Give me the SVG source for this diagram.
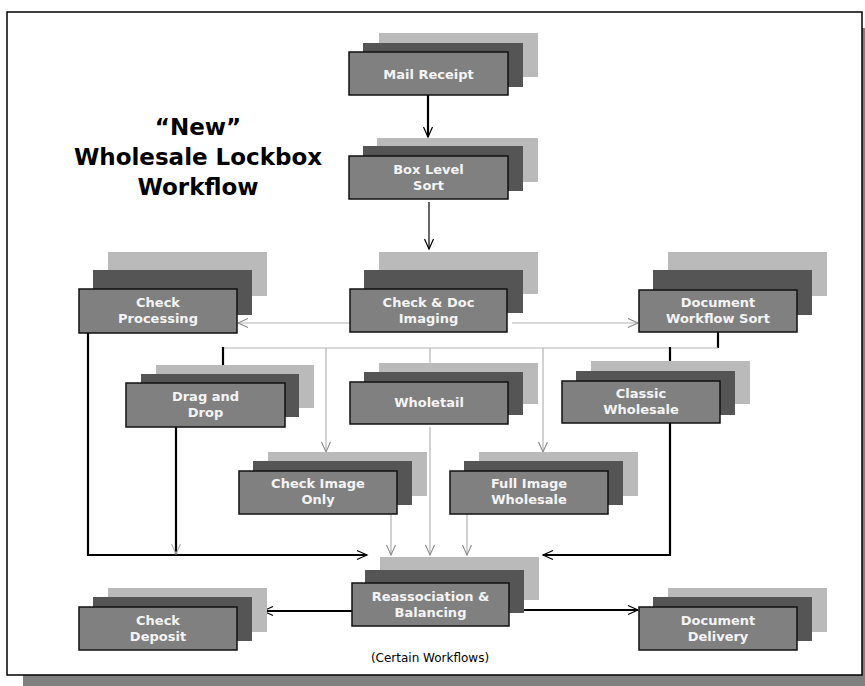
<svg xmlns="http://www.w3.org/2000/svg" width="865" height="686" viewBox="0 0 865 686">
  <style>
    .back { fill: #bababa; }
    .mid { fill: #555555; }
    .front { fill: #808080; stroke: #111111; stroke-width: 1.5; }
    .lbl { font-family: "DejaVu Sans", "Liberation Sans", sans-serif; font-weight: bold; font-size: 13px; fill: #f4f4f4; text-anchor: middle; }
    .title { font-family: "DejaVu Sans", "Liberation Sans", sans-serif; font-weight: bold; font-size: 23px; fill: #000000; text-anchor: middle; }
    .note { font-family: "DejaVu Sans", "Liberation Sans", sans-serif; font-size: 12px; fill: #000000; text-anchor: middle; }
    .thick { fill: none; stroke: #000000; stroke-width: 2.2; }
    .thin { fill: none; stroke: #000000; stroke-width: 1.2; }
    .grey { fill: none; stroke: #b4b4b4; stroke-width: 1.2; }
  </style>
  <defs>
    <marker id="headBlack" markerUnits="userSpaceOnUse" viewBox="-12 -6 14 12" refX="0" refY="0" markerWidth="14" markerHeight="12" orient="auto" overflow="visible">
      <path d="M-10,-4.5 L0,0 L-10,4.5" fill="none" stroke="#000000" stroke-width="1.2"/>
    </marker>
    <marker id="headGrey" markerUnits="userSpaceOnUse" viewBox="-12 -6 14 12" refX="0" refY="0" markerWidth="14" markerHeight="12" orient="auto" overflow="visible">
      <path d="M-10,-4.5 L0,0 L-10,4.5" fill="none" stroke="#8a8a8a" stroke-width="1.1"/>
    </marker>
    <marker id="headFaint" markerUnits="userSpaceOnUse" viewBox="-12 -6 14 12" refX="0" refY="0" markerWidth="14" markerHeight="12" orient="auto" overflow="visible">
      <path d="M-10,-4.5 L0,0 L-10,4.5" fill="none" stroke="#b0b0b0" stroke-width="1.1"/>
    </marker>
  </defs>

  <!-- page with drop shadow -->
  <rect x="23" y="28" width="855" height="663" fill="#808080"/>
  <rect x="7" y="12" width="855" height="663" fill="#ffffff" stroke="#000000" stroke-width="1.5"/>

  <!-- title -->
  <g id="title">
    <text class="title" x="198" y="135">“New”</text>
    <text class="title" x="198" y="165">Wholesale Lockbox</text>
    <text class="title" x="198" y="195">Workflow</text>
  </g>

  <!-- connectors -->
  <g id="connectors">
    <line class="thick" x1="428" y1="95" x2="428" y2="137" marker-end="url(#headBlack)"/>
    <line class="thin" x1="429" y1="202" x2="429" y2="249" marker-end="url(#headBlack)"/>
    <line class="grey" x1="350" y1="323" x2="238" y2="323" marker-end="url(#headGrey)"/>
    <line class="grey" x1="512" y1="323" x2="638" y2="323" marker-end="url(#headGrey)"/>

    <!-- distribution bus below the imaging row -->
    <line class="thick" x1="718" y1="332" x2="718" y2="348"/>
    <line class="grey" x1="223" y1="348" x2="718" y2="348"/>
    <line class="thick" x1="223" y1="347" x2="223" y2="365"/>
    <line class="thick" x1="670" y1="347" x2="670" y2="361"/>
    <line class="grey" x1="326" y1="348" x2="326" y2="452" marker-end="url(#headGrey)"/>
    <line class="grey" x1="430" y1="348" x2="430" y2="363"/>
    <line class="grey" x1="543" y1="348" x2="543" y2="452" marker-end="url(#headGrey)"/>

    <!-- feeds into reassociation -->
    <polyline class="thick" points="88,333 88,555 367,555" marker-end="url(#headBlack)"/>
    <line class="thick" x1="176" y1="427" x2="176" y2="554" marker-end="url(#headFaint)"/>
    <polyline class="thick" points="670,420 670,555 543,555" marker-end="url(#headBlack)"/>
    <line class="grey" x1="391" y1="514" x2="391" y2="555" marker-end="url(#headGrey)"/>
    <line class="grey" x1="430" y1="427" x2="430" y2="555" marker-end="url(#headGrey)"/>
    <line class="grey" x1="467" y1="514" x2="467" y2="555" marker-end="url(#headGrey)"/>

    <!-- outputs -->
    <line class="thick" x1="352" y1="611" x2="263" y2="611" marker-end="url(#headBlack)"/>
    <line class="thick" x1="524" y1="610" x2="638" y2="610" marker-end="url(#headBlack)"/>
  </g>

  <!-- nodes -->
  <g id="mail-receipt">
    <rect class="back" x="379" y="33" width="159" height="44"/>
    <rect class="mid" x="363" y="43" width="160" height="44"/>
    <rect class="front" x="349" y="52" width="159" height="43"/>
    <text class="lbl" x="428.5" y="79">Mail Receipt</text>
  </g>

  <g id="box-level-sort">
    <rect class="back" x="377" y="138" width="161" height="44"/>
    <rect class="mid" x="363" y="146" width="160" height="45"/>
    <rect class="front" x="349" y="156" width="159" height="43"/>
    <text class="lbl" x="428.5" y="174">Box Level</text>
    <text class="lbl" x="428.5" y="190">Sort</text>
  </g>

  <g id="check-doc-imaging">
    <rect class="back" x="379" y="252" width="159" height="42"/>
    <rect class="mid" x="364" y="270" width="159" height="43"/>
    <rect class="front" x="350" y="289" width="157" height="43"/>
    <text class="lbl" x="428.5" y="307">Check &amp; Doc</text>
    <text class="lbl" x="428.5" y="323">Imaging</text>
  </g>

  <g id="check-processing">
    <rect class="back" x="108" y="252" width="159" height="44"/>
    <rect class="mid" x="93" y="270" width="159" height="45"/>
    <rect class="front" x="79" y="289" width="158" height="44"/>
    <text class="lbl" x="158" y="307">Check</text>
    <text class="lbl" x="158" y="323">Processing</text>
  </g>

  <g id="document-workflow-sort">
    <rect class="back" x="668" y="252" width="159" height="44"/>
    <rect class="mid" x="653" y="270" width="159" height="45"/>
    <rect class="front" x="639" y="290" width="158" height="42"/>
    <text class="lbl" x="718" y="307">Document</text>
    <text class="lbl" x="718" y="323">Workflow Sort</text>
  </g>

  <g id="drag-and-drop">
    <rect class="back" x="156" y="365" width="158" height="43"/>
    <rect class="mid" x="141" y="374" width="158" height="43"/>
    <rect class="front" x="126" y="383" width="159" height="44"/>
    <text class="lbl" x="205.5" y="401">Drag and</text>
    <text class="lbl" x="205.5" y="417">Drop</text>
  </g>

  <g id="wholetail">
    <rect class="back" x="379" y="363" width="159" height="41"/>
    <rect class="mid" x="364" y="372" width="159" height="43"/>
    <rect class="front" x="350" y="382" width="158" height="42"/>
    <text class="lbl" x="429" y="407">Wholetail</text>
  </g>

  <g id="classic-wholesale">
    <rect class="back" x="591" y="361" width="159" height="43"/>
    <rect class="mid" x="576" y="371" width="159" height="44"/>
    <rect class="front" x="562" y="381" width="158" height="42"/>
    <text class="lbl" x="641" y="398">Classic</text>
    <text class="lbl" x="641" y="414">Wholesale</text>
  </g>

  <g id="check-image-only">
    <rect class="back" x="268" y="452" width="159" height="44"/>
    <rect class="mid" x="253" y="461" width="159" height="44"/>
    <rect class="front" x="239" y="471" width="158" height="43"/>
    <text class="lbl" x="318" y="488">Check Image</text>
    <text class="lbl" x="318" y="504">Only</text>
  </g>

  <g id="full-image-wholesale">
    <rect class="back" x="479" y="452" width="159" height="44"/>
    <rect class="mid" x="464" y="461" width="159" height="44"/>
    <rect class="front" x="450" y="471" width="158" height="43"/>
    <text class="lbl" x="529" y="488">Full Image</text>
    <text class="lbl" x="529" y="504">Wholesale</text>
  </g>

  <g id="reassociation-balancing">
    <rect class="back" x="380" y="557" width="159" height="43"/>
    <rect class="mid" x="365" y="570" width="159" height="43"/>
    <rect class="front" x="352" y="583" width="157" height="43"/>
    <text class="lbl" x="430.5" y="601">Reassociation &amp;</text>
    <text class="lbl" x="430.5" y="617">Balancing</text>
  </g>

  <g id="check-deposit">
    <rect class="back" x="108" y="588" width="159" height="44"/>
    <rect class="mid" x="93" y="597" width="159" height="44"/>
    <rect class="front" x="79" y="607" width="158" height="43"/>
    <text class="lbl" x="158" y="625">Check</text>
    <text class="lbl" x="158" y="641">Deposit</text>
  </g>

  <g id="document-delivery">
    <rect class="back" x="668" y="588" width="159" height="44"/>
    <rect class="mid" x="653" y="597" width="159" height="44"/>
    <rect class="front" x="639" y="607" width="158" height="43"/>
    <text class="lbl" x="718" y="625">Document</text>
    <text class="lbl" x="718" y="641">Delivery</text>
  </g>

  <text class="note" x="430" y="662">(Certain Workflows)</text>
</svg>
